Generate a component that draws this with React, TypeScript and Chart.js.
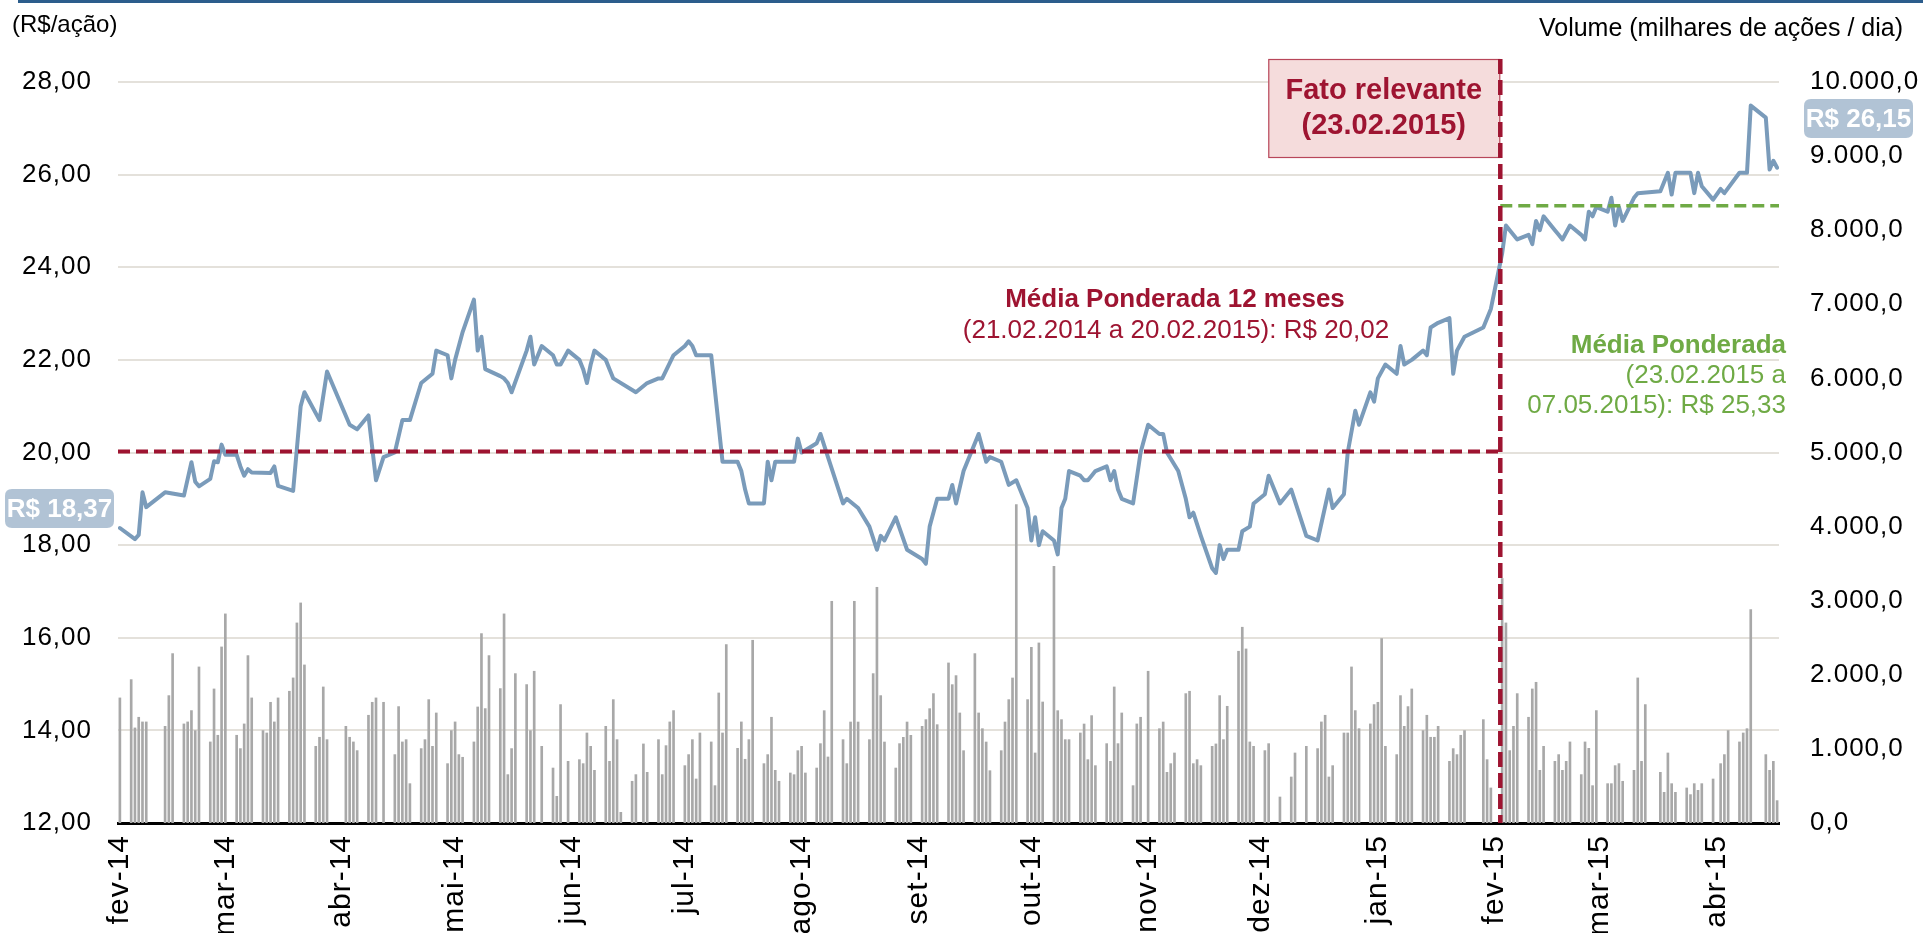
import React, { useEffect, useRef } from 'react';
import { Chart, registerables } from 'chart.js';

Chart.register(...registerables);

const FONT = '"Liberation Sans", Arial, Helvetica, sans-serif';

// x axis = calendar days since 21 Feb 2014 (day 0) up to 07 May 2015 (day 440)
const monthTickDays = [0, 28, 59, 89, 120, 150, 181, 212, 242, 273, 303, 334, 365, 393, 424];
const monthLabels = ['fev-14', 'mar-14', 'abr-14', 'mai-14', 'jun-14', 'jul-14', 'ago-14', 'set-14', 'out-14', 'nov-14', 'dez-14', 'jan-15', 'fev-15', 'mar-15', 'abr-15'];

// price (R$/ação): trading day offset and closing price
const priceDays = [
  0, 4, 5, 6, 7, 12, 17, 19, 20, 21, 24, 25, 26, 27, 28, 31, 32, 33, 34, 35, 40, 41, 42, 46, 48, 49, 53, 55,
  61, 63, 66, 68, 70, 73, 75, 77, 80, 83, 84, 87, 88, 89, 91, 94, 95, 96, 97, 101, 102, 103, 104, 108, 109, 110,
  112, 115, 116, 117, 119, 122, 123, 124, 125, 126, 129, 130, 131, 137, 140, 143, 144, 147, 150, 151, 152, 153,
  157, 160, 164, 165, 166, 167, 171, 172, 173, 174, 179, 180, 181, 185, 186, 188, 192, 193, 196, 199, 201, 202,
  203, 206, 209, 213, 214, 215, 217, 220, 221, 222, 224, 228, 230, 231, 234, 236, 238, 241, 242, 243, 244, 245,
  248, 249, 250, 251, 252, 255, 256, 257, 258, 259, 262, 263, 264, 265, 266, 269, 271, 273, 276, 277, 278, 281,
  283, 284, 285, 287, 290, 291, 292, 293, 294, 297, 298, 300, 301, 304, 305, 308, 311, 315, 318, 321, 322, 325,
  326, 328, 329, 332, 333, 334, 336, 339, 340, 341, 343, 346, 347, 348, 350, 353, 354, 355, 357, 362, 363, 364,
  367, 368, 369, 371, 374, 375, 376, 377, 378, 381, 382, 383, 385, 388, 389, 390, 391, 392, 395, 396, 397, 398,
  399, 402, 403, 409, 411, 412, 413, 417, 418, 419, 420, 423, 425, 426, 430, 432, 433, 437, 438, 439, 440,
];
const prices = [
  18.37, 18.13, 18.22, 19.14, 18.82, 19.14, 19.07, 19.79, 19.37, 19.27, 19.43, 19.81, 19.79, 20.17, 19.95, 19.95, 19.7, 19.5, 19.64, 19.57, 19.56, 19.7, 19.28, 19.17, 21.0, 21.3, 20.7, 21.75,
  20.6, 20.5, 20.8, 19.4, 19.9, 20.0, 20.7, 20.7, 21.5, 21.7, 22.2, 22.1, 21.6, 22.0, 22.6, 23.3, 22.2, 22.5, 21.8, 21.65, 21.6, 21.5, 21.3, 22.2, 22.5, 21.9,
  22.3, 22.1, 21.9, 21.9, 22.2, 22.0, 21.8, 21.5, 21.9, 22.2, 22.0, 21.8, 21.6, 21.3, 21.5, 21.6, 21.6, 22.1, 22.3, 22.4, 22.3, 22.1,
  22.1, 19.8, 19.8, 19.6, 19.2, 18.9, 18.9, 19.8, 19.4, 19.8, 19.8, 20.3, 20.0, 20.2, 20.4, 19.9, 18.9, 19.0, 18.8, 18.4, 17.9, 18.2,
  18.1, 18.6, 17.9, 17.7, 17.6, 18.4, 19.0, 19.0, 19.3, 18.9, 19.6, 20.4, 19.8, 19.9, 19.8, 19.3, 19.4, 18.8, 18.1, 18.6, 18.0, 18.3,
  18.1, 17.8, 18.8, 19.0, 19.6, 19.5, 19.4, 19.4, 19.5, 19.6, 19.7, 19.4, 19.6, 19.2, 19.0, 18.9, 20.0, 20.6, 20.4, 20.4, 20.0, 19.6,
  19.0, 18.6, 18.7, 18.2, 17.5, 17.4, 18.0, 17.7, 17.9, 17.9, 18.3, 18.4, 18.9, 19.1, 19.5, 18.9, 19.2, 18.2, 18.1, 19.2, 18.8, 19.1,
  20.0, 20.9, 20.6, 21.3, 21.1, 21.6, 21.9, 21.7, 22.3, 21.9, 22.0, 22.2, 22.1, 22.7, 22.8, 22.9, 21.7, 22.2, 22.5, 22.7, 22.9, 23.1,
  24.3, 24.9, 24.8, 24.6, 24.7, 24.5, 25.0, 24.8, 25.1, 24.8, 24.7, 24.6, 24.9, 24.7, 24.6, 25.2, 25.1, 25.3, 25.2, 25.5, 24.9, 25.3,
  25.0, 25.5, 25.6, 25.64, 26.04, 25.57, 26.04, 26.04, 25.6, 26.04, 25.75, 25.46, 25.69, 25.6, 26.04, 26.04, 27.49, 27.23, 26.11, 26.3, 26.15,
];

// volume (milhares de ações / dia): weekly rows Mon..Fri, first Monday = 17 Feb 2014 (day -4); null = no trading
const volume = [
  null, null, null, null, 1688,
  1935, 1283, 1427, 1364, 1364,
  null, null, 1305, 1719, 2286,
  1337, 1364, 1517, 1247, 2106,
  1094, 1809, 1184, 2376, 2822,
  1184, 1004, 1337, 2259, 1688,
  1247, 1215, 1629, 1364, 1688,
  1778, 1958, 2700, 2970, 2133,
  1035, 1157, 1836, 1125, null,
  null, 1305, 1157, 1094, 977,
  1454, 1629, 1688, null, 1629,
  923, 1571, 1094, 1125, 531,
  1004, 1125, 1665, 1035, 1485,
  801, 1247, 1364, 923, 887,
  1094, 1566, 2556, 1544, 2259,
  1814, 2822, 653, 1004, 2016,
  1868, 1247, 2048, null, 1035,
  742, 360, 1598, null, 832,
  855, 801, 1215, 1035, 711,
  1305, 832, 1665, 1125, 144,
  563, 653, null, 1067, 684,
  1125, 653, 1044, 1364, 1517,
  774, 923, 1125, 594, 1215,
  1094, 504, 1755, 1215, 2408,
  1008, 1364, 860, 1125, 2466,
  801, 923, 1427, 711, 563,
  675, 652, 976, 1035, 675,
  742, 1071, 1516, 891, 2992,
  1125, 801, 1363, 2992, 1363,
  1125, 2016, 3181, 1719, 1093,
  742, 1071, 1156, 1363, 1183,
  1305, 1395, 1543, 1746, 1327,
  2160, 1867, 1989, 1485, 976,
  2286, 1485, 1273, 1093, 706,
  976, 1363, 1665, 1957, 4297,
  1665, 2371, 945, 2430, 1633,
  3465, 1516, 1395, 1125, 1125,
  1215, 1336, 855, 1449, 774,
  1071, 832, 1836, 1071, 1485,
  504, 1337, 1427, null, 2048,
  1273, 1363, 684, 801, 945,
  1746, 1778, 801, 855, 774,
  1035, 1067, 1719, 1125, 1575,
  2318, 2642, 2349, 1094, 1035,
  977, 1071, null, null, 351,
  621, 945, null, null, 1035,
  1004, 1364, 1454, 621, 774,
  1215, 1215, 2106, 1517, 1273,
  1337, 1598, 1629, 2489, 1035,
  923, 1719, 1305, 1571, 1809,
  1247, 1454, 1157, 1157, 1305,
  832, 1004, 923, 1184, 1247,
  null, null, 1395, 855, 473,
  3300, 2700, 977, 1305, 1746,
  1427, 1809, 1899, 711, 1035,
  832, 923, 711, 832, 1094,
  653, 1094, 1008, 504, 1517,
  531, 531, 774, 801, 563,
  711, 1958, 832, 1598, null,
  684, 414, 945, 531, 414,
  473, 383, 531, 441, 531,
  594, null, 801, 923, 1247,
  1094, 1215, 1273, 2880, null,
  923, 711, 832, 302, null,
];

const firstMonday = -4;
const lastDay = 440;
const avg12Months = 20.02;
const avgAfterFact = 25.33;
const factDay = 367;
const firstPrice = 'R$ 18,37';
const lastPrice = 'R$ 26,15';

const RED = '#9E1431';
const GREEN = '#6FAA45';
const STEEL = '#7A9BBA';
const LABEL_BG = '#B1C3D5';

function fmtVol(v: number): string {
  const s = Math.round(v).toString().replace(/\B(?=(\d{3})+(?!\d))/g, '.');
  return s + ',0';
}

function roundRect(ctx: CanvasRenderingContext2D, x: number, y: number, w: number, h: number, r: number) {
  ctx.beginPath();
  ctx.moveTo(x + r, y);
  ctx.lineTo(x + w - r, y);
  ctx.quadraticCurveTo(x + w, y, x + w, y + r);
  ctx.lineTo(x + w, y + h - r);
  ctx.quadraticCurveTo(x + w, y + h, x + w - r, y + h);
  ctx.lineTo(x + r, y + h);
  ctx.quadraticCurveTo(x, y + h, x, y + h - r);
  ctx.lineTo(x, y + r);
  ctx.quadraticCurveTo(x, y, x + r, y);
  ctx.closePath();
}

const spacing = {
  id: 'spacing',
  beforeDraw(chart: any) {
    (chart.ctx as any).letterSpacing = '1px';
  },
};

const overlay = {
  id: 'overlay',
  afterDatasetsDraw(chart: any) {
    const { ctx, chartArea, scales } = chart;
    const xs = scales.x;
    const ys = scales.y;
    const W = chart.width;
    ctx.save();
    (ctx as any).letterSpacing = '0px';

    // top rule
    ctx.fillStyle = '#2C5D8C';
    ctx.fillRect(18, 0, W - 18, 3);

    // axis titles
    ctx.fillStyle = '#000';
    ctx.textBaseline = 'middle';
    ctx.font = `24px ${FONT}`;
    ctx.textAlign = 'left';
    ctx.fillText('(R$/ação)', 12, 25);
    ctx.font = `25px ${FONT}`;
    ctx.textAlign = 'right';
    ctx.fillText('Volume (milhares de ações / dia)', 1903, 29);

    const xf = xs.getPixelForValue(factDay);

    // 12-month average (red dashed)
    const yAvg = ys.getPixelForValue(avg12Months);
    ctx.strokeStyle = RED;
    ctx.lineWidth = 4;
    ctx.setLineDash([12, 6]);
    ctx.beginPath();
    ctx.moveTo(chartArea.left, yAvg);
    ctx.lineTo(xf, yAvg);
    ctx.stroke();

    // post-fact average (green dashed)
    const yG = ys.getPixelForValue(avgAfterFact);
    ctx.strokeStyle = GREEN;
    ctx.lineWidth = 3.5;
    ctx.setLineDash([12, 6]);
    ctx.beginPath();
    ctx.moveTo(xf, yG);
    ctx.lineTo(chartArea.right, yG);
    ctx.stroke();

    // Fato relevante box
    const bx = xf - 232, by = 59, bw = 231, bh = 98;
    ctx.setLineDash([]);
    ctx.fillStyle = '#F5DCDC';
    ctx.fillRect(bx, by, bw, bh);
    ctx.strokeStyle = '#B8475A';
    ctx.lineWidth = 1.2;
    ctx.strokeRect(bx + 0.5, by + 0.5, bw, bh);
    ctx.fillStyle = RED;
    ctx.textAlign = 'center';
    ctx.font = `bold 29px ${FONT}`;
    ctx.fillText('Fato relevante', bx + bw / 2, by + 32);
    ctx.fillText('(23.02.2015)', bx + bw / 2, by + 67);

    // vertical red dashed line
    ctx.strokeStyle = RED;
    ctx.lineWidth = 4.5;
    ctx.setLineDash([15, 6]);
    ctx.beginPath();
    ctx.moveTo(xf, by);
    ctx.lineTo(xf, chartArea.bottom);
    ctx.stroke();
    ctx.setLineDash([]);

    // red annotation
    ctx.fillStyle = RED;
    ctx.font = `bold 26px ${FONT}`;
    ctx.fillText('Média Ponderada 12 meses', 1175, 300);
    ctx.font = `26px ${FONT}`;
    ctx.fillText('(21.02.2014 a 20.02.2015): R$ 20,02', 1176, 331);

    // green annotation
    ctx.fillStyle = GREEN;
    ctx.textAlign = 'right';
    ctx.font = `bold 26px ${FONT}`;
    ctx.fillText('Média Ponderada', 1786, 346);
    ctx.font = `26px ${FONT}`;
    ctx.fillText('(23.02.2015 a', 1786, 376);
    ctx.fillText('07.05.2015): R$ 25,33', 1786, 406);

    // price labels
    ctx.fillStyle = LABEL_BG;
    roundRect(ctx, 5, 489, 109, 39, 7);
    ctx.fill();
    roundRect(ctx, 1804, 99, 109, 39, 7);
    ctx.fill();
    ctx.fillStyle = '#FFFFFF';
    ctx.textAlign = 'center';
    ctx.font = `bold 26px ${FONT}`;
    ctx.fillText(firstPrice, 59.5, 510);
    ctx.fillText(lastPrice, 1858.5, 120);

    ctx.restore();
  },
};

export default function App() {
  const ref = useRef<HTMLCanvasElement | null>(null);

  useEffect(() => {
    document.body.style.margin = '0';
    const canvas = ref.current;
    if (!canvas) return;

    const pricePoints = priceDays.map((d, i) => ({ x: d + 0.5, y: prices[i] }));
    const volPoints: { x: number; y: number }[] = [];
    volume.forEach((v, i) => {
      const day = firstMonday + Math.floor(i / 5) * 7 + (i % 5);
      if (v !== null && day >= 0 && day <= lastDay) volPoints.push({ x: day + 0.5, y: v as number });
    });

    const chart = new Chart(canvas, {
      type: 'bar',
      data: {
        datasets: [
          {
            type: 'line',
            data: pricePoints,
            yAxisID: 'y',
            xAxisID: 'x',
            borderColor: STEEL,
            borderWidth: 4,
            pointRadius: 0,
            tension: 0,
            borderJoinStyle: 'round',
            borderCapStyle: 'round',
            order: 1,
          } as any,
          {
            type: 'bar',
            data: volPoints,
            yAxisID: 'y1',
            xAxisID: 'x',
            backgroundColor: '#A8A8A8',
            barThickness: 2,
            grouped: false,
            order: 2,
          } as any,
        ],
      },
      options: {
        responsive: false,
        animation: false,
        devicePixelRatio: 1,
        layout: { padding: { top: 82, left: 0, right: 0, bottom: 0 } },
        plugins: { legend: { display: false }, tooltip: { enabled: false } },
        scales: {
          x: {
            type: 'linear',
            offset: false,
            min: 0,
            max: lastDay + 1,
            afterBuildTicks: (s: any) => {
              s.ticks = monthTickDays.map((d) => ({ value: d + 0.5 }));
            },
            afterFit: (s: any) => {
              s.height = 110;
            },
            ticks: {
              autoSkip: false,
              maxRotation: 90,
              minRotation: 90,
              padding: 12,
              color: '#000',
              font: { family: FONT, size: 30 },
              callback: (_v: any, i: number) => monthLabels[i],
            },
            grid: { display: false, drawTicks: false, offset: false },
            border: { display: true, color: '#000', width: 3 },
          },
          y: {
            position: 'left',
            min: 12,
            max: 28,
            afterFit: (s: any) => {
              s.width = 118;
            },
            ticks: {
              stepSize: 2,
              padding: 26,
              color: '#000',
              font: { family: FONT, size: 26 },
              callback: (v: any) => Number(v).toFixed(2).replace('.', ','),
            },
            grid: { color: '#E4E1DB', lineWidth: 2, drawTicks: false },
            border: { display: false },
          },
          y1: {
            position: 'right',
            min: 0,
            max: 10000,
            afterFit: (s: any) => {
              s.width = 144;
            },
            ticks: {
              stepSize: 1000,
              padding: 31,
              color: '#000',
              font: { family: FONT, size: 26 },
              callback: (v: any) => fmtVol(Number(v)),
            },
            grid: { display: false, drawTicks: false },
            border: { display: false },
          },
        },
      } as any,
      plugins: [spacing, overlay],
    });

    return () => chart.destroy();
  }, []);

  return (
    <div style={{ position: 'relative', width: 1923, height: 933, overflow: 'hidden', background: '#fff' }}>
      <canvas ref={ref} width={1923} height={933} style={{ display: 'block' }} />
    </div>
  );
}
